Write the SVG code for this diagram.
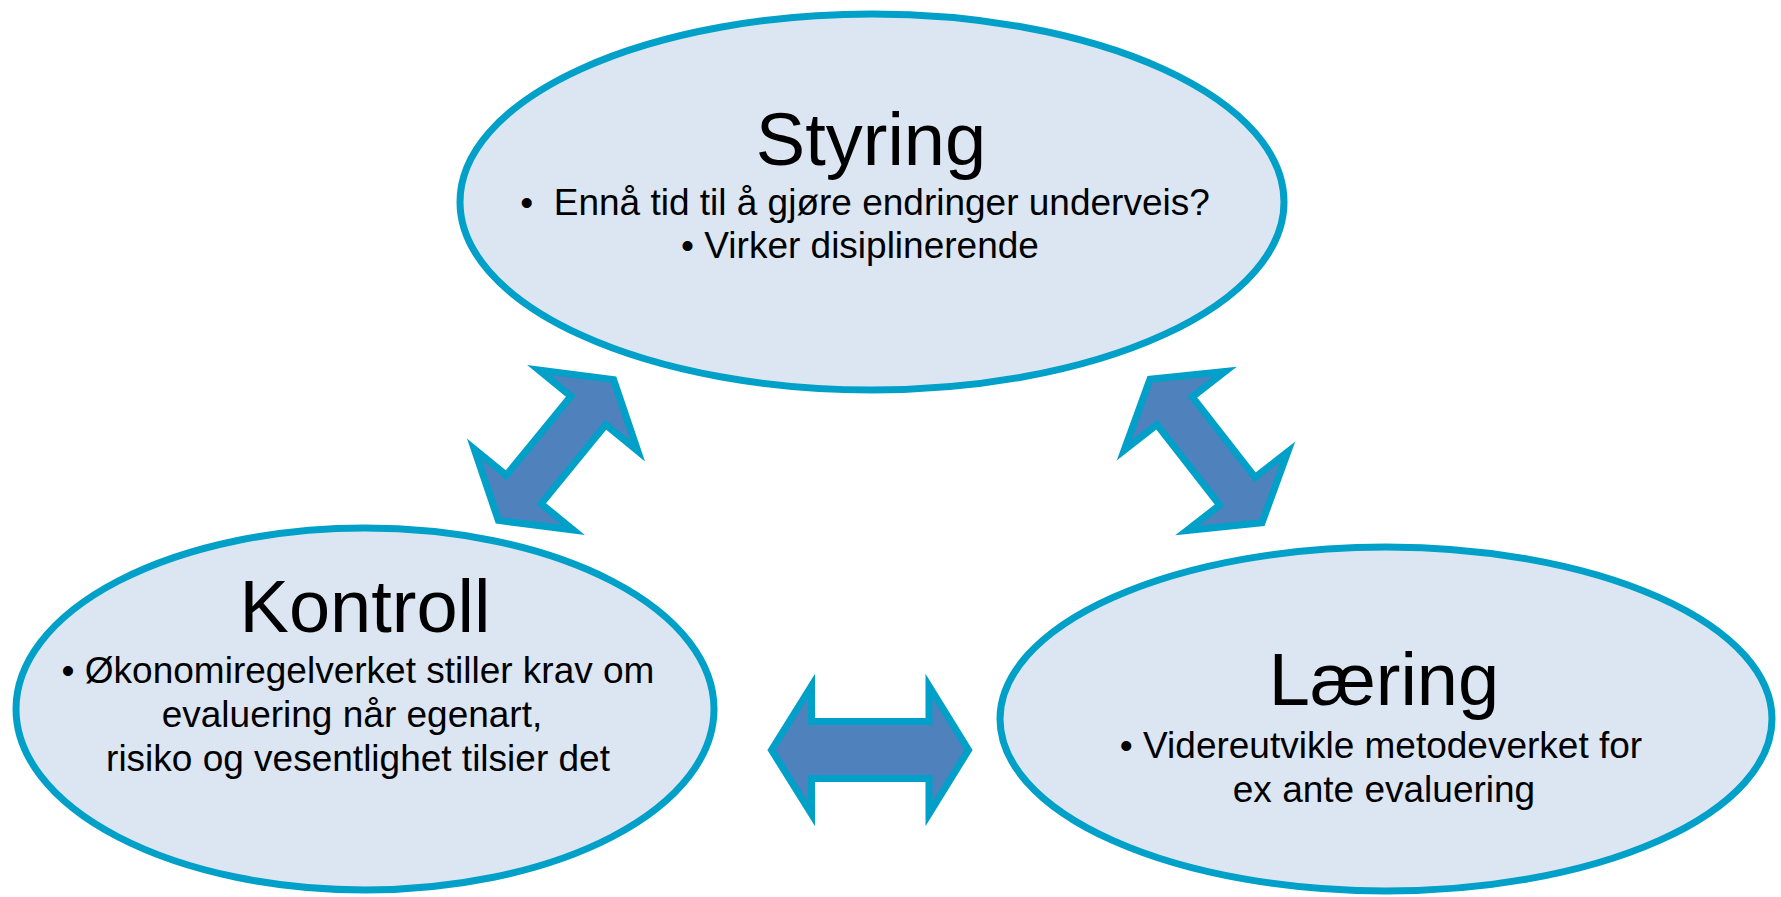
<svg xmlns="http://www.w3.org/2000/svg" width="1781" height="897" viewBox="0 0 1781 897">
<style>
.node{fill:#DCE6F2;stroke:#00A0C8;stroke-width:7}
.arrow{fill:#4F81BD;stroke:#00A0C8;stroke-width:7;stroke-linejoin:miter;stroke-miterlimit:10}
.title{font-family:"Liberation Sans",Arial,sans-serif;font-size:74px;fill:#000;text-anchor:middle}
.body{font-family:"Liberation Sans",Arial,sans-serif;font-size:37px;fill:#000;text-anchor:middle}
</style>
<defs>
<polygon id="darrow" points="-91,0 -51,-64 -51,-22.5 51,-22.5 51,-64 91,0 51,64 51,22.5 -51,22.5 -51,64"/>
</defs>
<rect width="1781" height="897" fill="#fff"/>
<g id="connectors">
<use href="#darrow" class="arrow" transform="translate(556,450) rotate(-50.7)"/>
<use href="#darrow" class="arrow" transform="translate(1206,451) rotate(52)"/>
<polygon class="arrow" points="771.5,750 811.5,686 811.5,721.5 929,721.5 929,686 968.5,750 929,814 929,778.5 811.5,778.5 811.5,814"/>
</g>
<g id="styring">
<ellipse class="node" cx="872" cy="202" rx="412" ry="188"/>
<text class="title" x="871" y="165">Styring</text>
<text class="body" x="865" y="215" xml:space="preserve">•  Ennå tid til å gjøre endringer underveis?</text>
<text class="body" x="860" y="258">• Virker disiplinerende</text>
</g>
<g id="kontroll">
<ellipse class="node" cx="365" cy="709" rx="349" ry="181"/>
<text class="title" x="365" y="632">Kontroll</text>
<text class="body" x="358" y="683">• Økonomiregelverket stiller krav om</text>
<text class="body" x="352" y="727">evaluering når egenart,</text>
<text class="body" x="358" y="771">risiko og vesentlighet tilsier det</text>
</g>
<g id="laering">
<ellipse class="node" cx="1386" cy="719" rx="386" ry="172"/>
<text class="title" x="1384" y="705">Læring</text>
<text class="body" x="1381" y="758">• Videreutvikle metodeverket for</text>
<text class="body" x="1384" y="802">ex ante evaluering</text>
</g>
</svg>
